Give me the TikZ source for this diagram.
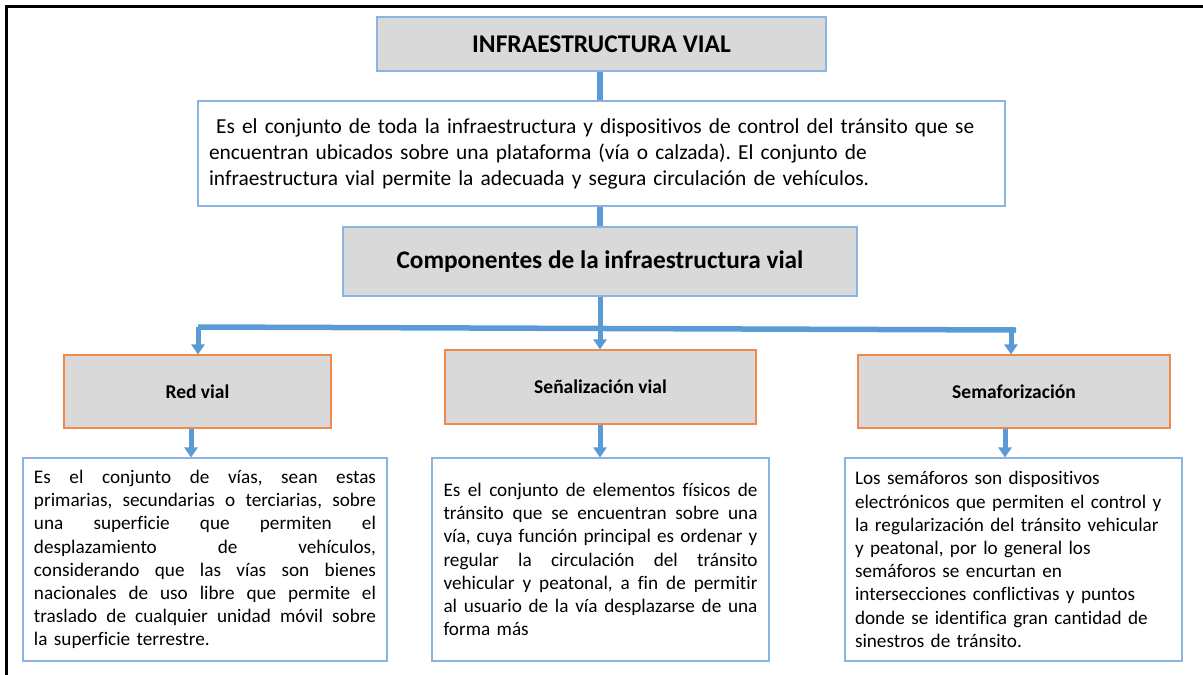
\documentclass[tikz,border=0pt]{standalone}
\usepackage{fontspec}
\setmainfont{Carlito}[Ligatures=NoCommon]
\usetikzlibrary{arrows.meta}
\definecolor{boxgray}{HTML}{D9D9D9}
\definecolor{bordblue}{HTML}{8CB4E0}
\definecolor{connblue}{HTML}{5B9BD5}
\definecolor{bordorange}{HTML}{F08A4B}
\newcommand\jl[2]{\hbox to #1{\spaceskip=0pt\xspaceskip=0pt #2}}
\frenchspacing
\tikzset{
  graybox/.style={draw=bordblue, fill=boxgray, line width=1.1pt, inner sep=0pt, text=black},
  orangebox/.style={draw=bordorange, fill=boxgray, line width=1.1pt, inner sep=0pt, text=black,
     minimum height=73pt, font=\fontsize{19.5}{23}\selectfont\bfseries},
  whitebox/.style={draw=bordblue, fill=white, line width=1.1pt, inner sep=0pt, text=black,
     minimum height=203pt, font=\fontsize{19.2}{23.2}\selectfont},
  conn/.style={draw=connblue, line width=5.5pt},
  connarrow/.style={draw=connblue, line width=5pt, -{Triangle[width=13pt,length=10pt]}},
  frameline/.style={draw=black, line width=2.5pt}
}
\begin{document}
\begin{tikzpicture}[x=1pt,y=-1pt]
\useasboundingbox (0,0) rectangle (1203,675);
\draw[frameline] (6.5,675) -- (6.5,6.5) -- (1203,6.5);

\node[graybox, minimum width=449pt, minimum height=54pt, font=\fontsize{25.5}{30}\selectfont\bfseries]
  (title) at (601.5,44) {INFRAESTRUCTURA VIAL};
\node[whitebox, minimum width=807pt, minimum height=105pt, text width=785pt, align=left,
  font=\fontsize{21.4}{26}\selectfont]
  (desc) at (601.5,153.5) {\ Es el conjunto de toda la infraestructura y dispositivos de control del tránsito que se\\
encuentran ubicados sobre una plataforma (vía o calzada). El conjunto de\\
infraestructura vial permite la adecuada y segura circulación de vehículos.};
\node[graybox, minimum width=514pt, minimum height=69pt, font=\fontsize{25.3}{30}\selectfont\bfseries]
  (comp) at (600,261.5) {Componentes de la infraestructura vial};

\node[orangebox, minimum width=267pt] (red) at (197.5,391.5) {Red vial};
\node[orangebox, minimum width=311pt, minimum height=74pt] (sen) at (600.5,387) {Señalización vial};
\node[orangebox, minimum width=312pt] (sem) at (1014,391.5) {Semaforización};

\node[whitebox, minimum width=364pt, text width=342pt, align=left] (redd) at (205,559.5) {%
\jl{342pt}{Es el conjunto de vías, sean estas}
\jl{342pt}{primarias, secundarias o terciarias, sobre}
\jl{342pt}{una superficie que permiten el}
\jl{342pt}{desplazamiento de vehículos,}
\jl{342pt}{considerando que las vías son bienes}
\jl{342pt}{nacionales de uso libre que permite el}
\jl{342pt}{traslado de cualquier unidad móvil sobre}
\noindent la superficie terrestre.};
\node[whitebox, minimum width=337pt, text width=314pt, align=left] (send) at (600.5,559.5) {%
\jl{314pt}{Es el conjunto de elementos físicos de}
\jl{314pt}{tránsito que se encuentran sobre una}
\jl{314pt}{vía, cuya función principal es ordenar y}
\jl{314pt}{regular la circulación del tránsito}
\jl{314pt}{vehicular y peatonal, a fin de permitir}
\jl{314pt}{al usuario de la vía desplazarse de una}
\noindent forma más};
\node[whitebox, minimum width=337pt, text width=317pt, align=left] (semd) at (1013.5,559.5) {%
Los semáforos son dispositivos\\
electrónicos que permiten el control y\\
la regularización del tránsito vehicular\\
y peatonal, por lo general los\\
semáforos se encurtan en\\
intersecciones conflictivas y puntos\\
donde se identifica gran cantidad de\\
sinestros de tránsito.};

% connectors
\coordinate (cx) at (600,0);
\coordinate (lx) at (191,0);
\coordinate (rx) at (1011,0);
\coordinate (sx) at (1005,0);
\coordinate (bl) at (198,327);
\coordinate (br) at (1016,330);
\coordinate (bra) at (1011,329.5);
\draw[conn] (title.south -| cx) -- (desc.north -| cx);
\draw[conn] (desc.south -| cx) -- (comp.north -| cx);
\draw[conn] (bl) -- (br);
\draw[connarrow] (comp.south -| cx) -- (sen.north -| cx);
\draw[connarrow] (bl) -- (bl |- red.north);
\draw[connarrow] (bra) -- (sem.north -| rx);
\draw[connarrow] (red.south -| lx) -- (redd.north -| lx);
\draw[connarrow] (sen.south -| cx) -- (send.north -| cx);
\draw[connarrow] (sem.south -| sx) -- (semd.north -| sx);
\end{tikzpicture}
\end{document}
